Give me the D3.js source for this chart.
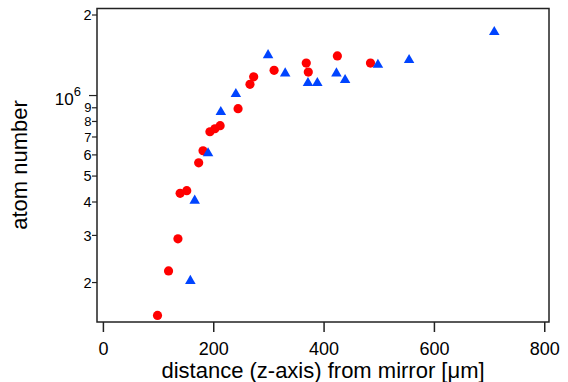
<!DOCTYPE html>
<html><head><meta charset="utf-8">
<script src="https://cdn.jsdelivr.net/npm/d3@7"></script>
<style>body{margin:0;background:#fff}svg{display:block}text{font-family:"Liberation Sans",Arial,sans-serif;fill:#000}</style>
</head><body>
<svg id="c" width="568" height="382"></svg>
<script>
const redX = [99,119,136,140,152,173.6,181.5,194,203,212.5,245,266.6,273.3,310.3,368.6,372.3,425,485];
const redY = [1.50e5,2.20e5,2.90e5,4.29e5,4.39e5,5.58e5,6.19e5,7.29e5,7.48e5,7.68e5,8.89e5,1.097e6,1.17e6,1.237e6,1.317e6,1.219e6,1.40e6,1.317e6];
const blueX = [158.5,166.4,190.6,213.7,241,299.4,330.4,371.7,388.7,423.3,439,498.5,555,709.4];
const blueY = [2.02e5,4.03e5,6.06e5,8.64e5,1.009e6,1.41e6,1.205e6,1.109e6,1.109e6,1.205e6,1.138e6,1.298e6,1.352e6,1.72e6];
const xTicks = [0,200,400,600,800];
const yTicks = [2e5,3e5,4e5,5e5,6e5,7e5,8e5,9e5,1e6,2e6];
const yTickLabels = ["2","3","4","5","6","7","8","9","10^6","2"];
const xTitle = "distance (z-axis) from mirror [μm]";
const yTitle = "atom number";

const svg = d3.select("#c");
const L=97, R=549, T=8.5, B=322;
const x = d3.scaleLinear().domain([-10.7, 808.6]).range([L, R]);
const y = d3.scaleLog().domain([1.418e5, 2.106e6]).range([B, T]);

// frame
svg.append("rect").attr("x",L).attr("y",T).attr("width",R-L).attr("height",B-T)
  .attr("fill","none").attr("stroke","#222").attr("stroke-width",1.5);

// x axis
const xa = svg.append("g").attr("transform",`translate(0,${B})`)
  .call(d3.axisBottom(x).tickValues(xTicks).tickSize(10).tickPadding(5).tickFormat(d3.format("d")));
xa.select(".domain").remove();
xa.selectAll("line").attr("stroke","#222").attr("stroke-width",1.5);
xa.selectAll("text").attr("font-size","18px").attr("fill","#000").attr("dy",null).attr("y",33);

// y axis
const ya = svg.append("g").attr("transform",`translate(${L},0)`)
  .call(d3.axisLeft(y).tickValues(yTicks).tickSize(5).tickPadding(2).tickFormat(()=>""));
ya.select(".domain").remove();
ya.selectAll("line").attr("stroke","#222").attr("stroke-width",1.2)
  .attr("x2",(d)=> d===1e6 ? -8 : -5);
ya.selectAll(".tick").each(function(d,i){
  const g = d3.select(this);
  const lab = yTickLabels[i];
  if (lab === "10^6") {
    const t = g.append("text").attr("x",-16).attr("y",9).attr("text-anchor","end").attr("font-size","17px");
    t.append("tspan").text("10");
    t.append("tspan").attr("dy",-9).attr("font-size","13px").text("6");
  } else {
    const small = (lab==="7"||lab==="8"||lab==="9");
    g.append("text").attr("x",-5.5).attr("dy","0.36em").attr("text-anchor","end")
      .attr("font-size", small ? "13px" : "14.5px").text(lab);
  }
});

// titles
svg.append("text").attr("x",323).attr("y",378).attr("text-anchor","middle").attr("font-size","22px").text(xTitle);
svg.append("text").attr("transform","translate(26.5,165) rotate(-90)").attr("text-anchor","middle").attr("font-size","22px").text(yTitle);

// data
svg.append("g").selectAll("circle").data(redX).join("circle")
  .attr("cx",(d)=>x(d)).attr("cy",(d,i)=>y(redY[i])).attr("r",4.6).attr("fill","#ff0000");
const tri = d3.symbol().type(d3.symbolTriangle).size(48);
svg.append("g").selectAll("path").data(blueX).join("path")
  .attr("d",tri).attr("transform",(d,i)=>`translate(${x(d)},${y(blueY[i])})`).attr("fill","#0044ff");
</script>
</body></html>
